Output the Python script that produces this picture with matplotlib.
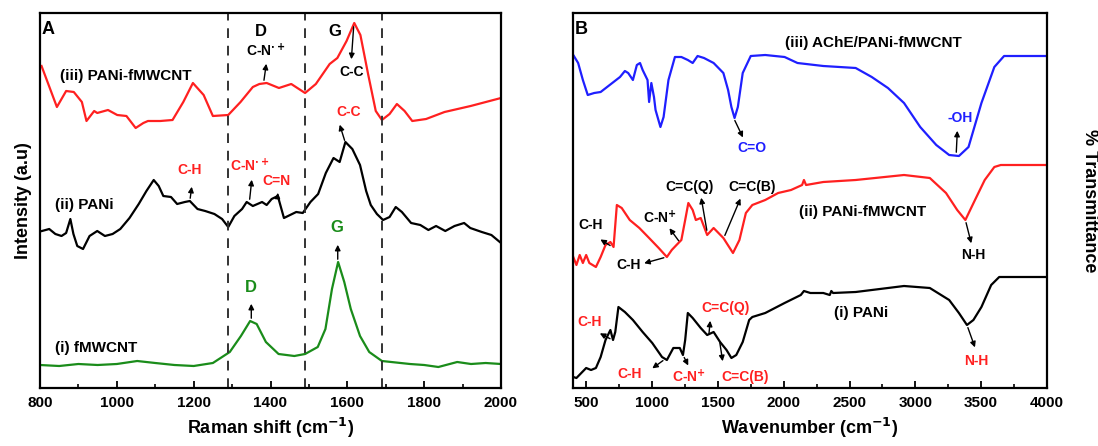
import matplotlib
matplotlib.use("Agg")
import matplotlib.pyplot as plt
from matplotlib.ticker import MultipleLocator

plt.rcParams['font.family'] = ['Liberation Sans', 'DejaVu Sans']
plt.rcParams['font.weight'] = 'bold'
plt.rcParams['mathtext.default'] = 'bf'

# ---- Panel A : Raman ----
raman_iii_x = [804, 844, 868, 888, 909, 921, 941, 949, 977, 1001, 1025, 1049, 1069, 1081, 1113,
               1145, 1173, 1198, 1226, 1250, 1290, 1322, 1354, 1371, 1390, 1422, 1454, 1490,
               1518, 1554, 1574, 1598, 1618, 1634, 1654, 1674, 1690, 1710, 1729, 1749, 1769,
               1805, 1853, 1921, 2000]
raman_iii_y = [322, 281, 297, 296, 286, 267, 277, 275, 278, 273, 272, 260, 265, 267, 267,
               268, 286, 305, 293, 272, 273, 286, 301, 304, 305, 300, 304, 295,
               304, 324, 330, 347, 365, 353, 314, 277, 268, 274, 284, 277, 267,
               269, 276, 282, 290]

raman_ii_x = [805, 824, 840, 856, 868, 879, 887, 897, 912, 929, 949, 969, 989, 1009, 1033,
              1057, 1077, 1096, 1109, 1121, 1141, 1157, 1177, 1190, 1210, 1230, 1254, 1274,
              1290, 1306, 1326, 1338, 1354, 1378, 1390, 1403, 1419, 1435, 1451, 1467, 1484,
              1504, 1524, 1544, 1564, 1580, 1595, 1613, 1633, 1649, 1661, 1677, 1693, 1710,
              1726, 1742, 1766, 1790, 1811, 1831, 1855, 1879, 1904, 1920, 1950, 1975, 2000]
raman_ii_y = [157, 159, 154, 152, 155, 169, 154, 142, 139, 152, 157, 152, 154, 159, 170,
              184, 197, 208, 202, 192, 191, 184, 186, 187, 179, 177, 174, 169,
              161, 172, 179, 186, 182, 186, 183, 189, 192, 170, 173, 176, 175,
              186, 194, 215, 230, 226, 246, 239, 223, 197, 183, 174, 168, 171,
              181, 176, 165, 163, 158, 162, 157, 162, 165, 160, 156, 153, 145]

raman_i_x = [800, 850, 900, 950, 1000, 1053, 1100, 1150, 1200, 1250, 1274, 1294, 1323, 1347,
             1364, 1388, 1421, 1462, 1490, 1523, 1543, 1560, 1576, 1592, 1609, 1633, 1657,
             1690, 1763, 1800, 1837, 1886, 1922, 1960, 2000]
raman_i_y = [23, 22, 24, 23, 24, 27, 25, 23, 22, 25, 31, 36, 52, 67,
             64, 46, 34, 32, 34, 41, 59, 99, 126, 106, 79, 52, 36,
             27, 24, 23, 21, 26, 24, 25, 24]

dash_lines = [1290, 1490, 1690]

# ---- Panel B : FTIR ----
ftir_iii_x = [402, 439, 475, 512, 561, 610, 659, 708, 757, 794, 819, 855, 885, 909, 929, 966,
              978, 995, 1015, 1027, 1064, 1088, 1125, 1174, 1223, 1272, 1309, 1346, 1395,
              1468, 1542, 1578, 1603, 1627, 1652, 1689, 1750, 1860, 2007, 2105, 2301, 2547,
              2669, 2792, 2914, 3037, 3159, 3257, 3331, 3404, 3502, 3600, 3674, 3772, 4000]
ftir_iii_y = [333, 325, 308, 293, 295, 296, 301, 306, 311, 317, 315, 308, 323, 325, 318, 308,
              286, 305, 291, 278, 261, 271, 308, 331, 331, 328, 325, 332, 330,
              325, 315, 298, 281, 270, 281, 315, 332, 333, 331, 325, 322, 320,
              311, 300, 285, 261, 243, 233, 232, 241, 285, 321, 332, 332, 332]

ftir_ii_x = [402, 426, 451, 475, 500, 524, 574, 610, 647, 684, 708, 733, 770, 831, 904, 978,
             1051, 1113, 1150, 1186, 1223, 1252, 1276, 1309, 1333, 1370, 1419, 1468, 1542,
             1615, 1664, 1713, 1762, 1860, 1958, 2056, 2140, 2154, 2170, 2301, 2547, 2694,
             2914, 3110, 3233, 3318, 3380, 3453, 3527, 3600, 3649, 4000]
ftir_ii_y = [131, 123, 133, 125, 133, 125, 121, 131, 143, 146, 141, 183, 180, 168, 160, 150,
             140, 131, 138, 143, 148, 168, 185, 178, 168, 170, 153, 160, 150,
             135, 148, 175, 183, 188, 195, 198, 203, 208, 203, 206, 208, 210,
             213, 210, 195, 178, 168, 188, 208, 221, 223, 223]

ftir_i_x = [402, 426, 463, 500, 537, 574, 610, 647, 684, 704, 721, 745, 794, 855, 929, 1002,
            1076, 1113, 1162, 1211, 1235, 1252, 1272, 1309, 1370, 1419, 1468, 1517, 1566,
            1603, 1640, 1689, 1738, 1762, 1860, 2007, 2130, 2154, 2203, 2301, 2350, 2362,
            2375, 2547, 2792, 2914, 3110, 3257, 3331, 3392, 3441, 3502, 3576, 3637, 4000]
ftir_i_y = [11, 10, 15, 20, 18, 20, 31, 48, 58, 48, 56, 81, 76, 68, 56, 45,
            31, 28, 40, 40, 33, 48, 75, 70, 60, 53, 56, 46, 38,
            30, 33, 46, 68, 71, 75, 85, 93, 97, 95, 95, 93, 97,
            95, 96, 100, 102, 100, 88, 75, 63, 68, 81, 103, 111, 111]

fig = plt.figure(figsize=(10.98, 4.46), dpi=100)
axA = fig.add_axes([40 / 1098, 58 / 446, 461 / 1098, 375 / 446])
axB = fig.add_axes([573 / 1098, 58 / 446, 474 / 1098, 375 / 446])

lw = 1.6
axA.plot(raman_iii_x, raman_iii_y, color='#ff2020', lw=lw)
axA.plot(raman_ii_x, raman_ii_y, color='black', lw=lw)
axA.plot(raman_i_x, raman_i_y, color='#1a8c1a', lw=lw)
for xv in dash_lines:
    axA.axvline(xv, color='#333333', ls=(0, (5, 4)), lw=1.4)

axA.set_xlim(800, 2000)
axA.set_ylim(0, 375)
axA.set_yticks([])
axA.xaxis.set_major_locator(MultipleLocator(200))
axA.xaxis.set_minor_locator(MultipleLocator(100))
axA.set_xlabel('Raman shift (cm$^{-1}$)', fontsize=13, fontweight='bold')
axA.set_ylabel('Intensity (a.u)', fontsize=13, fontweight='bold', labelpad=6)

axB.plot(ftir_iii_x, ftir_iii_y, color='#1f1fff', lw=lw)
axB.plot(ftir_ii_x, ftir_ii_y, color='#ff2020', lw=lw)
axB.plot(ftir_i_x, ftir_i_y, color='black', lw=lw)
axB.set_xlim(400, 4000)
axB.set_ylim(0, 375)
axB.set_yticks([])
axB.xaxis.set_major_locator(MultipleLocator(500))
axB.xaxis.set_minor_locator(MultipleLocator(250))
axB.set_xticks([500, 1000, 1500, 2000, 2500, 3000, 3500, 4000])
axB.set_xlabel('Wavenumber (cm$^{-1}$)', fontsize=13, fontweight='bold')
fig.text(0.992, 0.55, '% Transmittance', rotation=270, ha='center', va='center',
         fontsize=13, fontweight='bold')

for ax in (axA, axB):
    for s in ax.spines.values():
        s.set_linewidth(1.6)
    ax.tick_params(axis='x', which='major', direction='in', length=5, width=1.3,
                   labelsize=11, pad=6)
    ax.tick_params(axis='x', which='minor', direction='in', length=3, width=1.2)
    for t in ax.get_xticklabels():
        t.set_fontweight('bold')

fs = 10
arr = dict(arrowstyle='-|>', color='black', lw=1.0, mutation_scale=8)


def lab(ax, text, x, y, color='black', size=fs, ha='center'):
    ax.text(x, y, text, color=color, fontsize=size, fontweight='bold', ha=ha, va='center')


def arrow(ax, x0, y0, x1, y1):
    ax.annotate('', xy=(x1, y1), xytext=(x0, y0), arrowprops=arr)


# panel A texts
axA.text(803, 358, 'A', fontsize=13, fontweight='bold', va='center')
lab(axA, '(iii) PANi-fMWCNT', 852, 312, size=11, ha='left')
lab(axA, '(ii) PANi', 838, 183, size=11, ha='left')
lab(axA, '(i) fMWCNT', 838, 40, size=11, ha='left')
lab(axA, 'D', 1375, 356, size=12)
lab(axA, 'C-N$^{\\cdot+}$', 1388, 337)
arrow(axA, 1382, 305, 1390, 327)
lab(axA, 'G', 1568, 356, size=12)
lab(axA, 'C-C', 1610, 316)
arrow(axA, 1617, 364, 1610, 326)
lab(axA, 'C-C', 1603, 276, color='#ff2020')
arrow(axA, 1595, 245, 1578, 266)
lab(axA, 'C-H', 1190, 218, color='#ff2020')
arrow(axA, 1190, 187, 1196, 204)
lab(axA, 'C-N$^{\\cdot+}$', 1347, 222, color='#ff2020')
arrow(axA, 1345, 186, 1352, 211)
lab(axA, 'C=N', 1415, 207, color='#ff2020')
arrow(axA, 1418, 190, 1420, 198)
lab(axA, 'G', 1573, 160, color='#1a8c1a', size=12)
arrow(axA, 1575, 126, 1575, 146)
lab(axA, 'D', 1350, 101, color='#1a8c1a', size=12)
arrow(axA, 1350, 67, 1350, 87)

# panel B texts
axB.text(415, 358, 'B', fontsize=13, fontweight='bold', va='center')
lab(axB, '(iii) AChE/PANi-fMWCNT', 2010, 345, size=11, ha='left')
lab(axB, 'C=O', 1760, 240, color='#1f1fff')
arrow(axB, 1620, 270, 1700, 248)
lab(axB, '-OH', 3340, 270, color='#1f1fff')
arrow(axB, 3310, 233, 3320, 260)
lab(axB, '(ii) PANi-fMWCNT', 2120, 176, size=11, ha='left')
lab(axB, 'C=C(Q)', 1285, 201)
arrow(axB, 1420, 155, 1370, 193)
lab(axB, 'C=C(B)', 1760, 201)
arrow(axB, 1545, 150, 1680, 192)
lab(axB, 'C-N$^{+}$', 1064, 170)
arrow(axB, 1215, 145, 1120, 162)
lab(axB, 'C-H', 532, 163)
arrow(axB, 700, 141, 590, 150)
lab(axB, 'C-H', 820, 123)
arrow(axB, 1110, 131, 920, 124)
lab(axB, 'N-H', 3440, 133)
arrow(axB, 3380, 168, 3430, 142)

lab(axB, '(i) PANi', 2590, 75, size=11)
lab(axB, 'C-H', 525, 66, color='#ff2020')
arrow(axB, 700, 48, 585, 56)
lab(axB, 'C-H', 831, 14, color='#ff2020')
arrow(axB, 1100, 29, 985, 18)
lab(axB, 'C-N$^{+}$', 1280, 11, color='#ff2020')
arrow(axB, 1235, 33, 1285, 20)
lab(axB, 'C=C(Q)', 1560, 80, color='#ff2020')
arrow(axB, 1431, 52, 1444, 70)
lab(axB, 'C=C(B)', 1705, 11, color='#ff2020')
arrow(axB, 1512, 48, 1540, 24)
lab(axB, 'N-H', 3466, 27, color='#ff2020')
arrow(axB, 3392, 63, 3460, 38)

fig.savefig('out.png', dpi=100)
